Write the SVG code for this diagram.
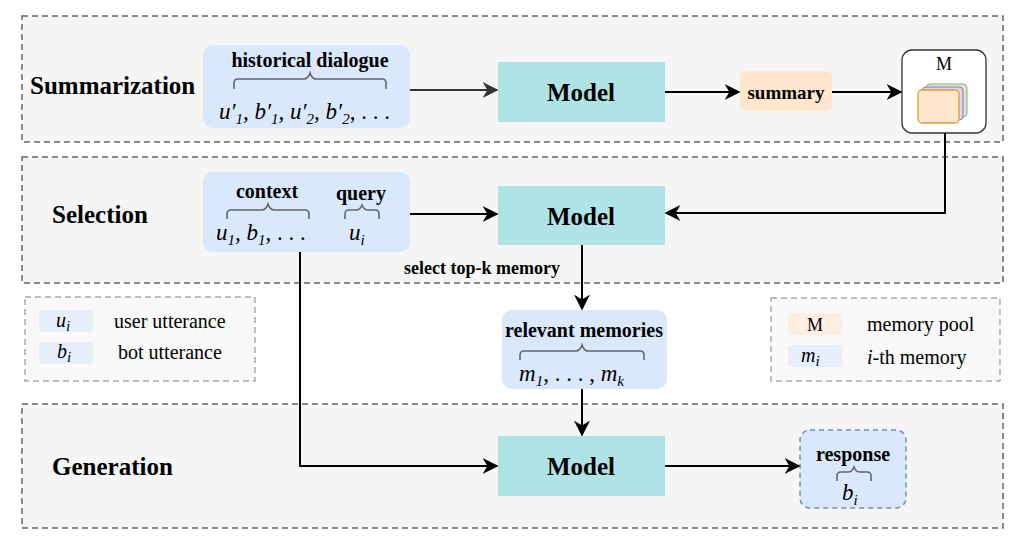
<svg xmlns="http://www.w3.org/2000/svg" width="1027" height="549" viewBox="0 0 1027 549">
<style>
.panel{fill:#f5f5f5;stroke:#666;stroke-width:1.5;stroke-dasharray:6 4}
.leg{fill:#f9f9f9;stroke:#aaa;stroke-width:1.5;stroke-dasharray:6 4}
.blue{fill:#dae8fc}
.model{fill:#b0e3e6}
.b{font-family:"Liberation Serif",serif;font-weight:bold;fill:#000}
.t{font-family:"Liberation Serif",serif;fill:#000}
.m{font-family:"Liberation Serif",serif;font-style:italic;fill:#000}
.sub{font-size:15px}
.br{fill:none;stroke:#666;stroke-width:1.6}
.c{fill:none;stroke:#000;stroke-width:2;marker-end:url(#a)}
</style>
<defs>
<marker id="a" viewBox="0 0 10 10" refX="9" refY="5" markerWidth="16" markerHeight="16" markerUnits="userSpaceOnUse" orient="auto"><path d="M0,0 L10,5 L0,10 L3,5 Z" fill="#000"/></marker>
<marker id="g" viewBox="0 0 10 10" refX="9" refY="5" markerWidth="16" markerHeight="16" markerUnits="userSpaceOnUse" orient="auto"><path d="M0,0 L10,5 L0,10 L3,5 Z" fill="#333"/></marker>
</defs>
<g id="panels">
<rect class="panel" x="22" y="16" width="981" height="126"/>
<rect class="panel" x="22" y="157" width="981" height="126"/>
<rect class="panel" x="22" y="404" width="981" height="124"/>
<text class="b" x="30" y="94" font-size="25">Summarization</text>
<text class="b" x="52" y="223" font-size="25">Selection</text>
<text class="b" x="52" y="475" font-size="25">Generation</text>
</g>
<g id="legend-left">
<rect class="leg" x="25" y="297" width="230" height="84"/>
<rect x="39" y="310" width="54" height="22" rx="3" fill="#e6eefb"/>
<rect x="39" y="342" width="54" height="22" rx="3" fill="#e6eefb"/>
<text class="m" x="56" y="327" font-size="20">u<tspan class="sub" dy="4">i</tspan></text>
<text class="m" x="57" y="358" font-size="20">b<tspan class="sub" dy="4">i</tspan></text>
<text class="t" x="114" y="328" font-size="20">user utterance</text>
<text class="t" x="118" y="359" font-size="20">bot utterance</text>
</g>
<g id="legend-right">
<rect class="leg" x="771" y="298" width="229" height="83"/>
<rect x="788" y="313" width="54" height="22" rx="3" fill="#fdeee0"/>
<rect x="788" y="345" width="54" height="22" rx="3" fill="#e6eefb"/>
<text class="t" x="815" y="331" font-size="18" text-anchor="middle">M</text>
<text class="m" x="801" y="362" font-size="20">m<tspan class="sub" dy="4">i</tspan></text>
<text class="t" x="867" y="331" font-size="20">memory pool</text>
<text class="t" x="867" y="364" font-size="20"><tspan font-style="italic">i</tspan>-th memory</text>
</g>
<g id="historical">
<rect class="blue" x="203" y="45" width="207" height="83" rx="10"/>
<text class="b" x="310" y="67" font-size="20" text-anchor="middle">historical dialogue</text>
<path class="br" d="M234,89 v-6 q0,-4 4,-4 h66 q4,0 6,-6 q2,6 6,6 h66 q4,0 4,4 v6"/>
<text class="m" x="219" y="119" font-size="23">u′<tspan class="sub" dy="5">1</tspan><tspan dy="-5">, b′</tspan><tspan class="sub" dy="5">1</tspan><tspan dy="-5">, u′</tspan><tspan class="sub" dy="5">2</tspan><tspan dy="-5">, b′</tspan><tspan class="sub" dy="5">2</tspan><tspan dy="-5" font-style="normal">, . . .</tspan></text>
</g>
<g id="model1"><rect class="model" x="498" y="62" width="167" height="60"/><text class="b" x="581" y="101" font-size="25" text-anchor="middle">Model</text></g>
<g id="summary"><rect x="740" y="71" width="92" height="40" rx="6" fill="#ffe6cc"/><text class="b" x="786" y="99" font-size="19" text-anchor="middle">summary</text></g>
<g id="pool">
<rect x="902" y="50" width="84" height="83" rx="10" fill="#fff" stroke="#333" stroke-width="1.3"/>
<text class="t" x="944" y="70" font-size="18" text-anchor="middle">M</text>
<rect x="926" y="84" width="41" height="33" rx="4" fill="#d5e8d4" stroke="#82b366"/>
<rect x="922" y="87" width="41" height="33" rx="4" fill="#e1d5e7" stroke="#9673a6"/>
<rect x="918" y="90" width="41" height="33" rx="4" fill="#ffe6cc" stroke="#d6a03a" stroke-width="1.3"/>
</g>
<g id="context">
<rect class="blue" x="203" y="172" width="207" height="80" rx="10"/>
<text class="b" x="267" y="198" font-size="20" text-anchor="middle">context</text>
<text class="b" x="361" y="200" font-size="20" text-anchor="middle">query</text>
<path class="br" d="M227,219 v-5 q0,-4 4,-4 h31 q4,0 6,-6 q2,6 6,6 h31 q4,0 4,4 v5"/>
<path class="br" d="M345,219 v-5 q0,-4 4,-4 h7 q4,0 6,-5 q2,5 6,5 h7 q4,0 4,4 v5"/>
<text class="m" x="216" y="240" font-size="23">u<tspan class="sub" dy="5">1</tspan><tspan dy="-5">, b</tspan><tspan class="sub" dy="5">1</tspan><tspan dy="-5" font-style="normal">, . . .</tspan></text>
<text class="m" x="349" y="240" font-size="23">u<tspan class="sub" dy="5">i</tspan></text>
</g>
<g id="model2"><rect class="model" x="498" y="186" width="167" height="59"/><text class="b" x="581" y="225" font-size="25" text-anchor="middle">Model</text></g>
<g id="relevant">
<rect class="blue" x="502" y="310" width="165" height="79" rx="10"/>
<text class="b" x="584" y="337" font-size="20" text-anchor="middle">relevant memories</text>
<path class="br" d="M520,360 v-5 q0,-4 4,-4 h52 q4,0 6,-6 q2,6 6,6 h52 q4,0 4,4 v5"/>
<text class="m" x="519" y="381" font-size="23">m<tspan class="sub" dy="5">1</tspan><tspan dy="-5" font-style="normal">, . . . , </tspan>m<tspan class="sub" dy="5">k</tspan></text>
</g>
<g id="model3"><rect class="model" x="498" y="436" width="167" height="60"/><text class="b" x="581" y="475" font-size="25" text-anchor="middle">Model</text></g>
<g id="response">
<rect x="800" y="430" width="106" height="78" rx="10" fill="#dae8fc" stroke="#6c8ebf" stroke-width="1.5" stroke-dasharray="5 4"/>
<text class="b" x="853" y="461" font-size="20" text-anchor="middle">response</text>
<path class="br" d="M837,481 v-5 q0,-4 4,-4 h7 q4,0 6,-5 q2,5 6,5 h7 q4,0 4,4 v5"/>
<text class="m" x="842" y="500" font-size="23">b<tspan class="sub" dy="5">i</tspan></text>
</g>
<g id="connectors">
<path d="M410,90 H497" fill="none" stroke="#333" stroke-width="2" marker-end="url(#g)"/>
<path class="c" d="M665,92 H739"/>
<path class="c" d="M832,92 H901"/>
<path class="c" d="M945,133 V213 H666"/>
<path class="c" d="M410,214 H497"/>
<path class="c" d="M582,245 V309"/>
<text class="b" x="482" y="274" font-size="18" text-anchor="middle">select top-k memory</text>
<path class="c" d="M582,389 V435"/>
<path class="c" d="M300,252 V466 H497"/>
<path class="c" d="M665,466 H799"/>
</g>
</svg>
